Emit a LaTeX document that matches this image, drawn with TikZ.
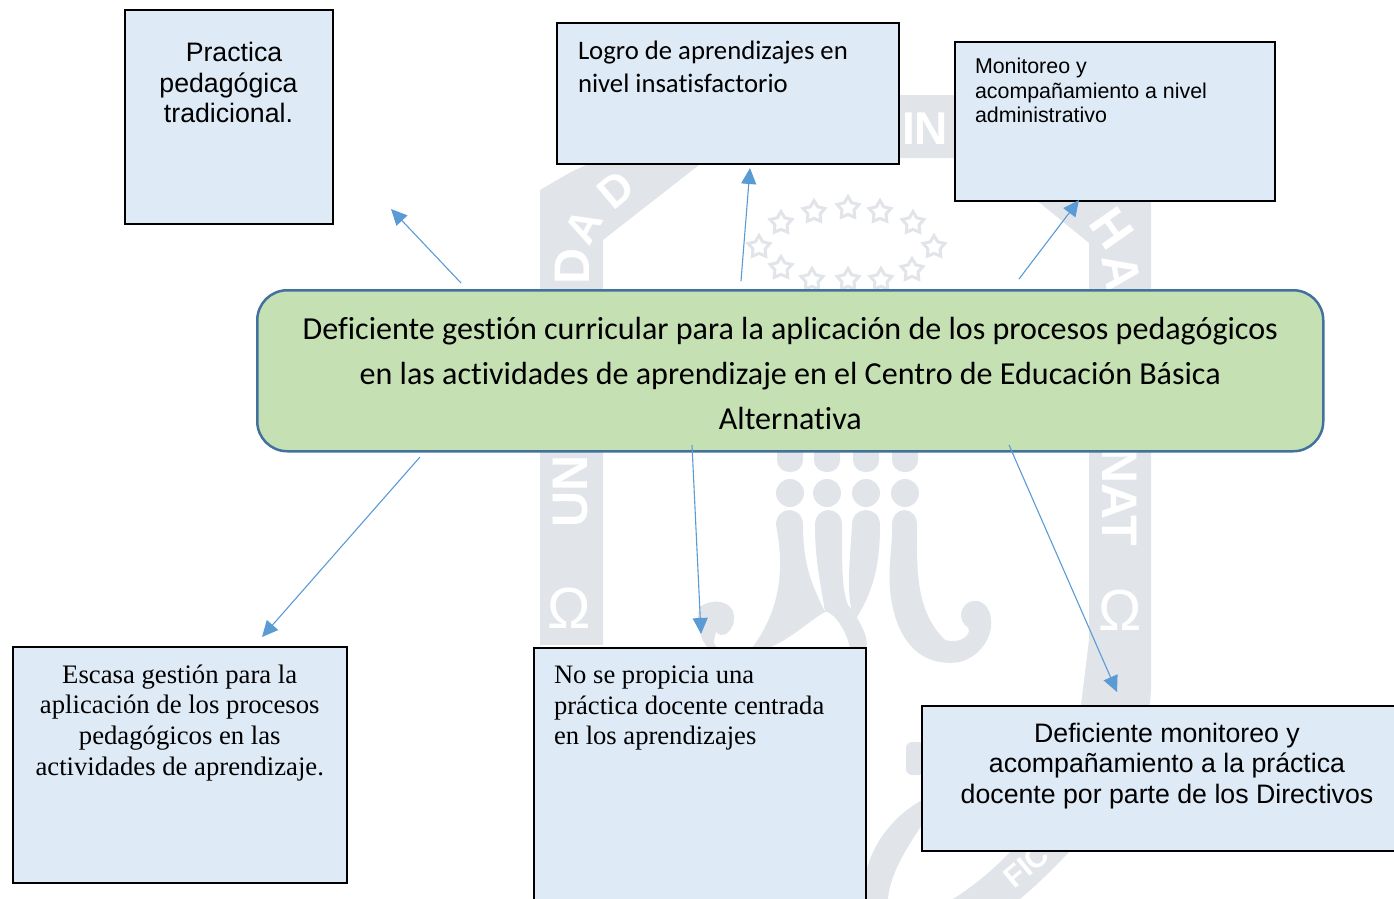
\documentclass[tikz,border=0pt]{standalone}
\usepackage{fontspec}
\setmainfont{Liberation Sans}
\newfontfamily\carlito[RawFeature={-liga}]{Carlito}
\newfontfamily\timesf{Liberation Serif}
\usetikzlibrary{arrows.meta,shapes.geometric}
\definecolor{wm}{HTML}{E1E4E9}
\definecolor{boxfill}{HTML}{DEEAF6}
\definecolor{mainfill}{HTML}{C5E0B3}
\definecolor{mainline}{HTML}{41719C}
\definecolor{arrowc}{HTML}{5B9BD5}
\newcommand{\boxtext}[6]{\parbox[c][#2pt][t]{#1pt}{\vspace*{#4pt}\hspace*{#3pt}\begin{minipage}[t]{\dimexpr#1pt-#3pt\relax}#5#6\end{minipage}}}
\tikzset{
  box/.style={draw=black,line width=2pt,fill=boxfill,inner sep=0pt,anchor=north west,text=black},
  mainbox/.style={draw=mainline,line width=2.5pt,fill=mainfill,rounded corners=30pt,inner sep=0pt,minimum width=1066pt,minimum height=161pt,anchor=north west},
  link/.style={draw=arrowc,line width=1.1pt,-{Triangle[length=16pt,width=15pt]}},
  wmtext/.style={font=\bfseries\fontsize{50}{50}\selectfont,text=white,inner sep=0pt},
  wmstar/.style={star,star points=5,star point ratio=1.8,draw=wm,line width=3pt,fill=white,minimum size=23pt,inner sep=0pt},
  wmdot/.style={circle,fill=wm,minimum size=28pt,inner sep=0pt},
  wmlobe/.style={rounded corners=12pt,fill=wm,minimum width=26pt,minimum height=36pt,inner sep=0pt},
}
\begin{document}
\begin{tikzpicture}[x=1pt,y=-1pt]
\useasboundingbox (0,0) rectangle (1394,899);
% watermark shield
\fill[wm] (540,190) -- (571,172) -- (640,140) -- (760,95) -- (955,95) -- (1040,110) -- (1151,201) -- (1151,690)
  .. controls (1148,760) and (1090,840) .. (1020,899) -- (953,899) .. controls (1030,850) and (1078,770) .. (1081,705)
  -- (1089,640) -- (1089,243) -- (1040,203) -- (954,158) -- (760,158) -- (699,165) -- (603,240) -- (603,645) -- (540,645) -- cycle;
% central motif
\foreach \i/\x in {a/790,b/827,c/866,d/905}{
  \node[wmlobe] (lobe\i) at (\x,454) {};
  \node[wmdot] (dot\i) at (\x,493) {};
}
\fill[wm] (776,525) .. controls (776,505) and (803,505) .. (803,525) .. controls (803,570) and (815,590) .. (825,612)
  .. controls (810,620) and (790,640) .. (768,648) -- (752,648) .. controls (780,610) and (785,570) .. (776,525) -- cycle;
\fill[wm] (815,525) .. controls (815,505) and (842,505) .. (842,525) .. controls (842,570) and (842,590) .. (848,605)
  .. controls (860,620) and (870,640) .. (866,648) -- (850,648) .. controls (845,625) and (830,610) .. (825,612) .. controls (820,580) and (815,560) .. (815,525) -- cycle;
\fill[wm] (852,525) .. controls (852,505) and (880,505) .. (880,525) .. controls (880,560) and (875,590) .. (855,620)
  .. controls (845,600) and (850,560) .. (852,525) -- cycle;
\fill[wm] (892,525) .. controls (892,505) and (917,505) .. (917,525) .. controls (917,570) and (915,610) .. (945,640)
  .. controls (965,645) and (975,630) .. (965,625) .. controls (955,615) and (965,598) .. (978,601)
  .. controls (998,606) and (998,650) .. (960,662) .. controls (920,668) and (895,640) .. (890,590) .. controls (888,560) and (893,545) .. (892,525) -- cycle;
\fill[wm] (700,607) .. controls (712,597) and (740,600) .. (733,625) .. controls (728,635) and (722,638) .. (716,632) .. controls (712,645) and (715,645) .. (718,648) -- (708,648) .. controls (700,640) and (695,620) .. (700,607) -- cycle;
% lower motif
\fill[wm] (867,899) -- (867,868) .. controls (875,840) and (895,815) .. (922,800) -- (922,825) .. controls (905,850) and (890,875) .. (888,899) -- cycle;
\fill[wm,rounded corners=6pt] (906,742) rectangle (924,775);
% stars
\foreach \n/\x/\y in {1/759/247,2/781/223,3/814/212,4/848/208,5/880/212,6/913/223,7/934/247,8/912/270,9/881/280,10/848/280,11/812/280,12/781/268}{
  \node[wmstar] (star\n) at (\x,\y) {};
}
% watermark letters
\node[wmtext,rotate=90] (w1) at (572,266) {D};
\node[wmtext,rotate=62,font=\bfseries\fontsize{44}{44}\selectfont] (w2) at (584,226) {A};
\node[wmtext,rotate=40,font=\bfseries\fontsize{44}{44}\selectfont] (w3) at (616,190) {D};
\node[wmtext,font=\bfseries\fontsize{46}{46}\selectfont] (w4) at (925,129) {IN};
\node[wmtext,rotate=-55] (w5) at (1112,228) {H};
\node[wmtext,rotate=-80] (w6) at (1122,272) {A};
\node[wmtext,rotate=90] (w7) at (571,491) {UN};
\node[wmtext,rotate=-90] (w8) at (1120,497) {NAT};
\node[wmtext,rotate=40,font=\bfseries\fontsize{30}{30}\selectfont] (w9) at (1026,866) {FIC};
\node[wmtext,font=\fontsize{58}{58}\selectfont] (w10) at (569,608) {Ω};
\node[wmtext,font=\fontsize{58}{58}\selectfont] (w11) at (1120,610) {Ω};
% boxes
\node[box] (pract) at (123.5,9.5) {\boxtext{208}{213}{0}{32}{\centering\fontsize{26.7}{30.5}\selectfont}{\hspace*{11pt}Practica\\pedagógica\\tradicional.}};
\node[box] (logro) at (556,22.5) {\boxtext{342}{140}{21}{17.5}{\raggedright\carlito\fontsize{26.7}{33}\selectfont}{Logro de aprendizajes en\\nivel insatisfactorio}};
\node[box] (moni) at (954,41.5) {\boxtext{320}{158.5}{20}{15.5}{\raggedright\fontsize{21.4}{24.5}\selectfont}{Monitoreo y\\acompañamiento a nivel\\administrativo}};
\node[box] (escasa) at (11.5,646) {\boxtext{334.5}{236}{0}{17.5}{\centering\timesf\fontsize{26.7}{30.7}\selectfont}{Escasa gestión para la\\aplicación de los procesos\\pedagógicos en las\\actividades de aprendizaje.}};
\node[box] (nose) at (533,646.5) {\boxtext{332}{270}{20}{18.5}{\raggedright\timesf\fontsize{26.6}{30.5}\selectfont}{No se propicia una\\práctica docente centrada\\en los aprendizajes}};
\node[box] (defic) at (921,705) {\boxtext{490}{145}{0}{17}{\begin{minipage}[t]{490pt}\centering\fontsize{26.7}{30.5}\selectfont}{Deficiente monitoreo y\\acompañamiento a la práctica\\docente por parte de los Directivos\end{minipage}}};
\node[mainbox] (main) at (256,289) {\parbox[c][161pt][t]{1066pt}{\vspace*{27pt}\centering\carlito\fontsize{32.06}{45}\selectfont Deficiente gestión curricular para la aplicación de los procesos pedagógicos\\en las actividades de aprendizaje en el Centro de Educación Básica\\Alternativa}};
% connector ends
\coordinate (t1) at (391,209);\coordinate (s1) at (461,283);
\coordinate (t2) at (750,168);\coordinate (s2) at (741,281);
\coordinate (t3) at (1079,200);\coordinate (s3) at (1019,279);
\coordinate (t4) at (262,637);\coordinate (s4) at (420,457);
\coordinate (t5) at (701,634);\coordinate (s5) at (692,445);
\coordinate (t6) at (1117,692);\coordinate (s6) at (1009,445);
\draw[link] (s1) -- (t1);
\draw[link] (s2) -- (t2);
\draw[link] (s3) -- (t3);
\draw[link] (s4) -- (t4);
\draw[link] (s5) -- (t5);
\draw[link] (s6) -- (t6);
\end{tikzpicture}
\end{document}
